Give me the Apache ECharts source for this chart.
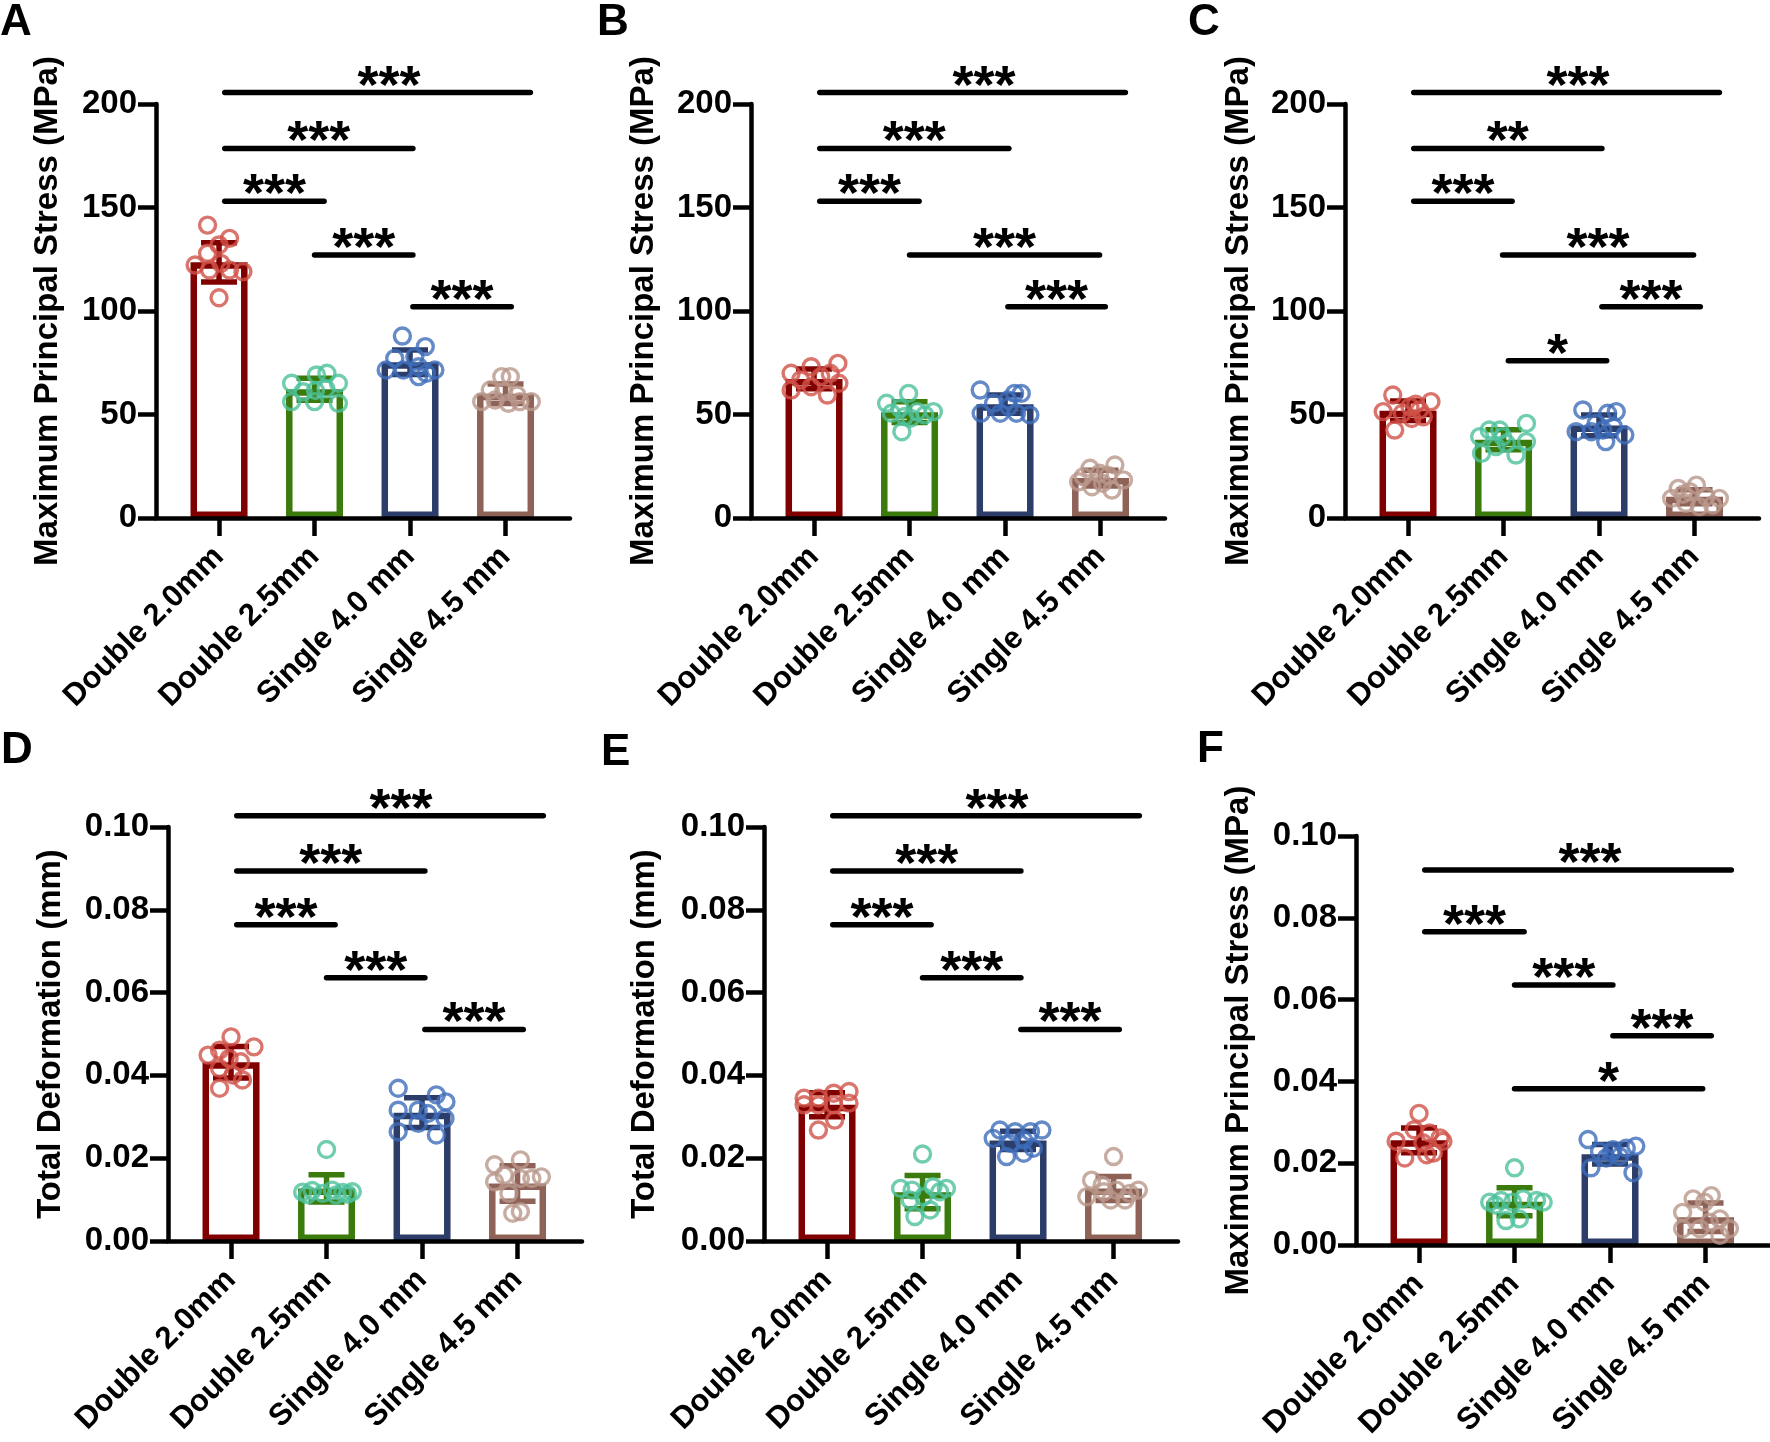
<!DOCTYPE html>
<html>
<head>
<meta charset="utf-8">
<title>Principal stress and deformation</title>
<script src="https://cdn.jsdelivr.net/npm/echarts@6.0.0/dist/echarts.min.js"></script>
<style>
  html, body { margin: 0; padding: 0; background: #fff; }
  #chart { width: 1770px; height: 1442px; }
</style>
</head>
<body>
<div id="chart"></div>
<script>
const categories = ['Double 2.0mm', 'Double 2.5mm', 'Single 4.0 mm', 'Single 4.5 mm']

// each point: [offset from group centre (category units), value]
const pointsA = [
  [[-0.12, 141.5], [0.11, 135.1], [0, 131.9], [-0.12, 127.9], [-0.25, 122.2], [-0.1, 119.8], [0.11, 119.8], [0.25, 119], [0.02, 123], [0, 106.4]],
  [[-0.24, 65.1], [0.02, 69.1], [0.13, 69.9], [0.25, 65.1], [-0.12, 61], [0.01, 61.6], [0.12, 62.4], [-0.24, 56.2], [0, 56.2], [0.25, 55.4]],
  [[-0.08, 87.9], [0.16, 82.8], [0.05, 77.9], [-0.16, 77.1], [-0.25, 71.5], [-0.07, 71.5], [0.09, 73.1], [0.17, 69.9], [0.26, 71.5], [0.09, 68.3]],
  [[-0.04, 68.3], [0.05, 68.3], [-0.16, 61.8], [-0.02, 61], [-0.25, 56.2], [-0.11, 57], [0.03, 55.4], [0.15, 56.2], [0.27, 56.2], [0.12, 59.4]]
]
const meansA = [123.5, 62.2, 75.2, 60]
const sdA = [9.5, 5.3, 5.9, 4.7]

const pointsB = [
  [[-0.24, 69.9], [-0.03, 73.1], [0.25, 74.7], [-0.14, 66.7], [0.07, 68.3], [0.17, 69.9], [-0.24, 61.8], [-0.03, 63.4], [0.14, 59.4], [0.26, 65.1]],
  [[-0.24, 55.4], [-0.01, 60.2], [-0.1, 53], [0.08, 51.4], [-0.19, 50.6], [-0.05, 49], [0.25, 51.4], [0.16, 49.8], [-0.08, 41.7], [0.01, 48.2]],
  [[-0.26, 61.8], [0.1, 60.2], [0.17, 60.2], [-0.12, 55.4], [0.03, 57], [-0.25, 50.6], [-0.05, 50.6], [0.12, 50.6], [0.26, 49.8], [0.04, 53.8]],
  [[-0.23, 17.5], [-0.11, 24], [0.15, 25.6], [-0.01, 21.6], [0.24, 18.4], [-0.18, 20], [0.02, 16.8], [0.12, 13.5], [-0.09, 15.1], [0.08, 20.5]]
]
const meansB = [67.2, 51.1, 55, 19.3]
const sdB = [4.8, 5, 4.4, 3.8]

const pointsC = [
  [[-0.16, 59.4], [-0.26, 51.4], [-0.14, 42.5], [0.02, 53.8], [0.12, 52.2], [0.24, 56.2], [0.16, 48.9], [0.04, 48.1], [-0.06, 50.6], [0.08, 55]],
  [[-0.25, 39.3], [-0.15, 42.5], [-0.04, 42.5], [0.24, 45.7], [0.24, 36.9], [-0.23, 31.2], [0.13, 30.4], [0.03, 36.1], [-0.08, 34.5], [-0.01, 39.3]],
  [[-0.17, 52.2], [0.09, 50.6], [0.18, 51.4], [-0.24, 41.7], [-0.08, 41.7], [0.04, 42.5], [0.15, 44.1], [0.27, 40.1], [0.07, 36.9], [-0.03, 45.7]],
  [[-0.17, 14.3], [0.02, 15.9], [-0.05, 12.7], [-0.24, 9.5], [0.26, 9.5], [0.12, 10.3], [-0.09, 7.1], [0.05, 5.5], [0.19, 6.3], [-0.12, 11.5]]
]
const meansC = [51.8, 37.8, 44.7, 10.3]
const sdC = [4.7, 4.8, 5, 3.4]

const pointsD = [
  [[0, 0.0493], [0.24, 0.0469], [-0.24, 0.0449], [-0.12, 0.0461], [0.1, 0.0433], [-0.02, 0.0441], [-0.12, 0.0417], [0.12, 0.0389], [-0.12, 0.0369], [0.02, 0.0401]],
  [[0, 0.0221], [-0.25, 0.0118], [-0.15, 0.0122], [-0.04, 0.0115], [0.06, 0.0123], [0.17, 0.0117], [0.27, 0.0119], [-0.2, 0.0112], [0.1, 0.0111], [0.22, 0.0113]],
  [[-0.25, 0.0369], [0.15, 0.0353], [0.25, 0.0336], [-0.25, 0.0316], [-0.04, 0.0316], [0.06, 0.0308], [0.24, 0.0296], [-0.04, 0.0284], [-0.25, 0.0264], [0.15, 0.0256]],
  [[-0.24, 0.0184], [0.03, 0.0196], [-0.14, 0.0159], [0.03, 0.0151], [0.15, 0.0151], [0.25, 0.0155], [-0.24, 0.0143], [-0.09, 0.0115], [-0.05, 0.0067], [0.03, 0.0071]]
]
const meansD = [0.0432, 0.0127, 0.031, 0.0139]
const sdD = [0.0038, 0.0033, 0.0036, 0.0043]

const pointsE = [
  [[-0.24, 0.0345], [-0.24, 0.0329], [-0.09, 0.0345], [-0.09, 0.0329], [0.07, 0.0357], [0.07, 0.0329], [0.23, 0.0361], [0.23, 0.0333], [-0.09, 0.0268], [0.08, 0.0292]],
  [[0, 0.021], [-0.23, 0.0127], [-0.11, 0.0123], [0.11, 0.0131], [0.25, 0.0127], [0.01, 0.0107], [-0.13, 0.0099], [0.08, 0.0075], [-0.08, 0.0059], [0.18, 0.0119]],
  [[-0.26, 0.0248], [-0.19, 0.0268], [-0.03, 0.0264], [0.13, 0.0264], [0.25, 0.0268], [0.06, 0.0244], [-0.12, 0.0204], [0.06, 0.0212], [0.16, 0.0224], [-0.08, 0.0236]],
  [[0, 0.0204], [-0.23, 0.0147], [-0.28, 0.0107], [-0.1, 0.0119], [0.03, 0.0123], [0.17, 0.0115], [0.26, 0.0123], [-0.03, 0.0099], [0.12, 0.0099], [-0.12, 0.0135]]
]
const meansE = [0.0329, 0.0118, 0.0243, 0.0127]
const sdE = [0.0029, 0.004, 0.0022, 0.0029]

const pointsF = [
  [[0, 0.0322], [-0.24, 0.0254], [-0.05, 0.0282], [0.11, 0.0274], [0.22, 0.0262], [0.25, 0.0254], [-0.15, 0.0213], [0.08, 0.0221], [0.15, 0.0225], [0.04, 0.025]],
  [[0, 0.0189], [-0.26, 0.0105], [-0.14, 0.0109], [-0.02, 0.0105], [0.09, 0.0113], [0.23, 0.0109], [0.3, 0.0105], [-0.09, 0.006], [0.05, 0.0064], [-0.2, 0.0098]],
  [[-0.23, 0.0258], [0.27, 0.0242], [-0.11, 0.0229], [0.03, 0.0233], [0.17, 0.0237], [-0.04, 0.0213], [0.1, 0.0217], [-0.2, 0.0189], [0.24, 0.0177], [0.01, 0.0225]],
  [[-0.24, 0.008], [-0.13, 0.0113], [0.06, 0.0121], [-0.01, 0.0105], [0.15, 0.0064], [0.25, 0.004], [-0.24, 0.004], [-0.06, 0.004], [0.15, 0.0024], [0.04, 0.0056]]
]
const meansF = [0.0256, 0.0106, 0.0222, 0.0068]
const sdF = [0.003, 0.0034, 0.0024, 0.0035]

// significance brackets: [from, to, y, stars, star position (optional)]
const sigA = [[0.06, 3.26, 205.5, '***', 1.78], [0.06, 2.03, 178.5, '***'], [0.06, 1.1, 153, '***'], [1.0, 2.03, 127, '***'], [2.03, 3.06, 102, '***']]
const sigB = [[0.06, 3.26, 205.5, '***', 1.78], [0.06, 2.04, 178.5, '***'], [0.06, 1.1, 153, '***'], [1.0, 2.99, 127, '***'], [2.03, 3.05, 102, '***']]
const sigC = [[0.06, 3.26, 205.5, '***', 1.78], [0.06, 2.03, 178.5, '**'], [0.06, 1.09, 153, '***'], [0.99, 2.99, 127, '***'], [2.03, 3.06, 102, '***'], [1.05, 2.08, 76, '*']]
const sigD = [[0.06, 3.27, 0.1027, '***', 1.78], [0.06, 2.03, 0.0894, '***'], [0.06, 1.09, 0.0764, '***'], [1.0, 2.03, 0.0636, '***'], [2.03, 3.06, 0.0511, '***']]
const sigE = [[0.06, 3.27, 0.1027, '***', 1.78], [0.06, 2.03, 0.0894, '***'], [0.06, 1.09, 0.0764, '***'], [1.0, 2.03, 0.0636, '***'], [2.03, 3.06, 0.0511, '***']]
const sigF = [[0.06, 3.27, 0.0917, '***', 1.79], [0.06, 1.1, 0.0766, '***'], [1.0, 2.03, 0.0636, '***'], [2.03, 3.06, 0.0512, '***'], [1.0, 2.97, 0.0382, '*']]

const FONT = '"Liberation Sans", Arial, Helvetica, sans-serif'
const barColors = ['#800000', '#3b7b0c', '#2b3d68', '#8f6257']
const pointColors = ['#cf5248', '#4dc09b', '#3f6dba', '#b9978b']
const stressName = 'Maximum Principal Stress (MPa)'
const deformName = 'Total Deformation (mm)'

const panels = [
  { letter: 'A', points: pointsA, means: meansA, sds: sdA, sig: sigA, name: stressName, left: 156, top: 104, max: 200, interval: 50, digits: 0, nameGap: 92, lx: 0, ly: 1 },
  { letter: 'B', points: pointsB, means: meansB, sds: sdB, sig: sigB, name: stressName, left: 751, top: 104, max: 200, interval: 50, digits: 0, nameGap: 91, lx: 597, ly: 1 },
  { letter: 'C', points: pointsC, means: meansC, sds: sdC, sig: sigC, name: stressName, left: 1345, top: 104, max: 200, interval: 50, digits: 0, nameGap: 90, lx: 1188, ly: 1 },
  { letter: 'D', points: pointsD, means: meansD, sds: sdD, sig: sigD, name: deformName, left: 168, top: 827, max: 0.1, interval: 0.02, digits: 2, nameGap: 101, lx: 1, ly: 729 },
  { letter: 'E', points: pointsE, means: meansE, sds: sdE, sig: sigE, name: deformName, left: 764, top: 827, max: 0.1, interval: 0.02, digits: 2, nameGap: 103, lx: 601, ly: 731 },
  { letter: 'F', points: pointsF, means: meansF, sds: sdF, sig: sigF, name: stressName, left: 1356, top: 836, max: 0.1, interval: 0.02, digits: 2, nameGap: 101, lx: 1197, ly: 728 }
]

const axisColor = '#000'
const lineW = 4.5

function renderErrorBar(params, api) {
  const x = api.value(0)
  const m = api.value(1)
  const s = api.value(2)
  const hi = api.coord([x, m + s])
  const lo = api.coord([x, m - s])
  const half = 18
  const style = { stroke: barColors[params.dataIndex], lineWidth: 5.5 }
  return {
    type: 'group',
    children: [
      { type: 'line', shape: { x1: hi[0], y1: hi[1], x2: lo[0], y2: lo[1] }, style },
      { type: 'line', shape: { x1: hi[0] - half, y1: hi[1], x2: hi[0] + half, y2: hi[1] }, style },
      { type: 'line', shape: { x1: lo[0] - half, y1: lo[1], x2: lo[0] + half, y2: lo[1] }, style }
    ]
  }
}

function sigRenderer(sig) {
  return function(params, api) {
    const a = api.coord([api.value(0), api.value(2)])
    const b = api.coord([api.value(1), api.value(2)])
    const t = api.coord([api.value(3), api.value(2)])
    return {
      type: 'group',
      children: [
        { type: 'line', shape: { x1: a[0], y1: a[1], x2: b[0], y2: b[1] }, style: { stroke: '#000', lineWidth: 5.5, lineCap: 'round' } },
        { type: 'text', x: t[0], y: t[1] - 5, style: { text: sig[params.dataIndex][3], font: 'bold 54px ' + FONT, fill: '#000', align: 'center', verticalAlign: 'middle' } }
      ]
    }
  }
}

const grid = []
const xAxis = []
const yAxis = []
const series = []

panels.forEach((p, i) => {
  grid.push({ left: p.left, top: p.top, width: 414, height: 414 })
  xAxis.push({
    type: 'value', gridIndex: i, min: -0.66, max: 3.675, z: 3,
    axisLine: { show: true, onZero: false, lineStyle: { color: axisColor, width: lineW } },
    axisTick: { show: true, length: 18, customValues: [0, 1, 2, 3], lineStyle: { color: axisColor, width: lineW } },
    axisLabel: {
      customValues: [0, 1, 2, 3], rotate: 45, margin: 34,
      color: '#000', fontSize: 31, fontWeight: 'bold', fontFamily: FONT,
      formatter: v => categories[Math.round(v)]
    },
    splitLine: { show: false }
  })
  yAxis.push({
    type: 'value', gridIndex: i, min: 0, max: p.max, interval: p.interval, z: 3,
    name: p.name, nameLocation: 'middle', nameGap: p.nameGap,
    nameTextStyle: { color: '#000', fontSize: 33, fontWeight: 'bold', fontFamily: FONT },
    axisLine: { show: true, onZero: false, lineStyle: { color: axisColor, width: lineW } },
    axisTick: { show: true, length: 18, lineStyle: { color: axisColor, width: lineW } },
    axisLabel: {
      margin: 19, color: '#000', fontSize: 33, fontWeight: 'bold', fontFamily: FONT,
      formatter: v => v.toFixed(p.digits)
    },
    splitLine: { show: false }
  })

  series.push({
    type: 'bar', xAxisIndex: i, yAxisIndex: i, barWidth: 57, silent: true, z: 2,
    data: p.means.map((m, j) => ({
      value: [j, m],
      itemStyle: { color: 'rgba(0,0,0,0)', borderColor: barColors[j], borderWidth: 6.5 }
    }))
  })
  series.push({
    type: 'custom', xAxisIndex: i, yAxisIndex: i, silent: true, z: 3, clip: false,
    encode: { x: 0, y: 1 },
    data: p.means.map((m, j) => [j, m, p.sds[j]]),
    renderItem: renderErrorBar
  })
  p.points.forEach((grp, j) => {
    series.push({
      type: 'scatter', xAxisIndex: i, yAxisIndex: i, silent: true, z: 4, clip: false,
      symbol: 'circle', symbolSize: 16,
      itemStyle: { color: 'rgba(0,0,0,0)', borderColor: pointColors[j], borderWidth: 3.4 },
      data: grp.map(pt => [j + pt[0], pt[1]])
    })
  })
  series.push({
    type: 'custom', xAxisIndex: i, yAxisIndex: i, silent: true, z: 5, clip: false,
    encode: { x: [0, 1], y: 2 },
    data: p.sig.map(s => [s[0], s[1], s[2], s.length > 4 ? s[4] : (s[0] + s[1]) / 2]),
    renderItem: sigRenderer(p.sig)
  })
})

const chart = echarts.init(document.getElementById('chart'), null, { renderer: 'canvas' })
chart.setOption({
  animation: false,
  backgroundColor: '#fff',
  textStyle: { fontFamily: FONT },
  grid,
  xAxis,
  yAxis,
  series,
  graphic: panels.map(p => ({
    type: 'text', left: p.lx, top: p.ly,
    style: { text: p.letter, font: 'bold 44px ' + FONT, fill: '#000' }
  }))
})
</script>
</body>
</html>
